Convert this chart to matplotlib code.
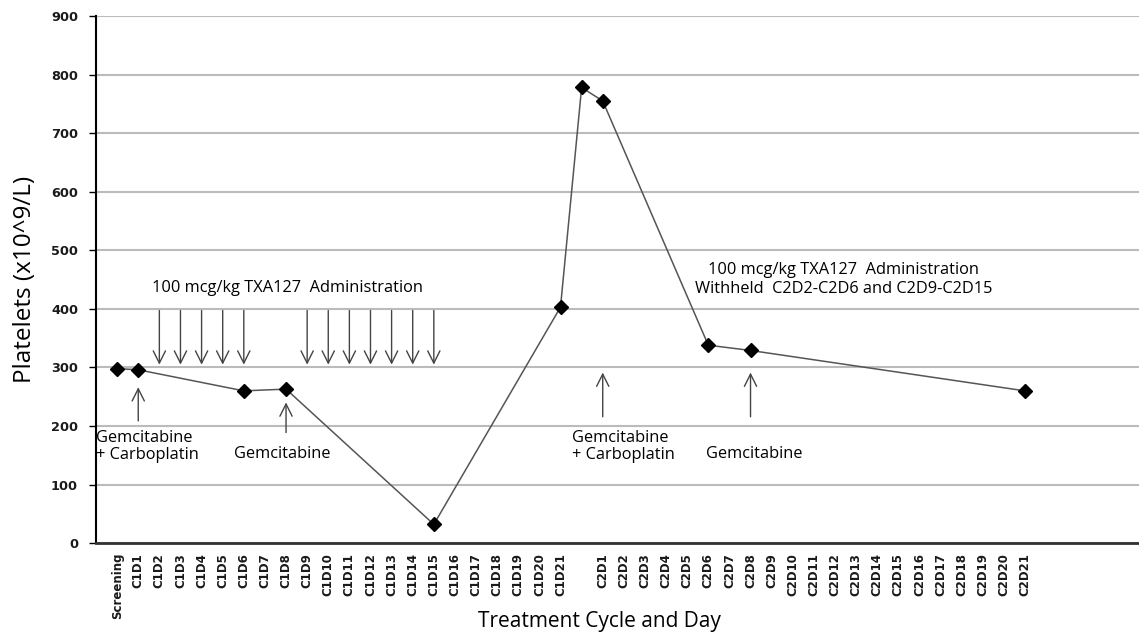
import numpy as np
import matplotlib.pyplot as plt

# category axis: screening, cycle 1 days, one unlabeled slot, cycle 2 days
days = ['Screening'] + ['C1D%d' % i for i in range(1, 22)] + [' '] + ['C2D%d' % i for i in range(1, 22)]

# measured platelet counts (x10^9/L)
meas_days = ['Screening', 'C1D1', 'C1D6', 'C1D8', 'C1D15', 'C1D21', ' ', 'C2D1', 'C2D6', 'C2D8', 'C2D21']
platelets = [298, 296, 260, 263, 32, 403, 778, 755, 338, 329, 260]

# TXA127 administration days (down arrows)
txa_days = ['C1D2', 'C1D3', 'C1D4', 'C1D5', 'C1D6',
            'C1D9', 'C1D10', 'C1D11', 'C1D12', 'C1D13', 'C1D14', 'C1D15']

# chemo days (up arrows)
chemo_days = ['C1D1', 'C1D8', 'C2D1', 'C2D8']
chemo_names = ['Gemcitabine\n+ Carboplatin', 'Gemcitabine', 'Gemcitabine\n+ Carboplatin', 'Gemcitabine']
chemo_arrow_from = [204, 184, 211, 211]
chemo_arrow_to = [271, 245, 296, 296]

txt_font = 'Open Sans'
arrow_kw = dict(arrowstyle='->', color='#444444', lw=1.0, mutation_scale=22)

fig = plt.figure(figsize=(11.39, 6.42), dpi=100)
ax = fig.add_axes([0.0843, 0.154, 0.9157, 0.821])

x = [days.index(d) for d in meas_days]
ax.plot(x, platelets, color='#555555', lw=1.1, zorder=3)
ax.plot(x, platelets, ls='none', marker='D', ms=7.5, color='black', zorder=4)

for d in txa_days:
    xi = days.index(d)
    ax.annotate('', xy=(xi, 300), xytext=(xi, 402), arrowprops=arrow_kw)

for d, y0, y1 in zip(chemo_days, chemo_arrow_from, chemo_arrow_to):
    xi = days.index(d)
    ax.annotate('', xy=(xi, y1), xytext=(xi, y0), arrowprops=arrow_kw)

# labels under the up arrows
ax.text(1.45, 194, chemo_names[0], ha='center', va='top', multialignment='left',
        fontsize=11.8, family=txt_font, linespacing=1.15)
ax.text(7.8, 153, chemo_names[1], ha='center', va='center', fontsize=11.8, family=txt_font)
ax.text(24.0, 194, chemo_names[2], ha='center', va='top', multialignment='left',
        fontsize=11.8, family=txt_font, linespacing=1.15)
ax.text(30.2, 153, chemo_names[3], ha='center', va='center', fontsize=11.8, family=txt_font)

ax.text(8.06, 436, '100 mcg/kg TXA127  Administration', ha='center', va='center',
        fontsize=11.8, family=txt_font)
ax.text(34.4, 450, '100 mcg/kg TXA127  Administration\nWithheld  C2D2-C2D6 and C2D9-C2D15',
        ha='center', va='center', fontsize=11.8, family=txt_font, linespacing=1.2)

ax.set_xlim(-1.0, 48.4)
ax.set_ylim(0, 900)
ax.set_yticks(np.arange(0, 901, 100))
ax.set_xticks(range(len(days)))
ax.set_xticklabels(days, rotation=90, fontsize=8.5, fontweight='bold', va='top', color='#1a1a1a')
for lab in ax.get_yticklabels():
    lab.set_fontweight('bold')
    lab.set_color('#1a1a1a')
ax.tick_params(axis='x', length=0, pad=7)
ax.tick_params(axis='y', labelsize=9.3, length=5, width=1, direction='out', pad=8)

ax.grid(axis='y', color='#bbbbbb', lw=1.5)
ax.set_axisbelow(True)
for s in ['top', 'right']:
    ax.spines[s].set_visible(False)
ax.spines['left'].set_linewidth(1.5)
ax.spines['bottom'].set_linewidth(2)
ax.spines['bottom'].set_color('#333333')

ax.set_ylabel('Platelets (x10^9/L)', fontsize=17.5, family=txt_font, labelpad=10)
ax.set_xlabel('Treatment Cycle and Day', fontsize=15, family=txt_font)
ax.xaxis.set_label_coords(0.483, -0.128)

fig.savefig('out.png', dpi=100)
